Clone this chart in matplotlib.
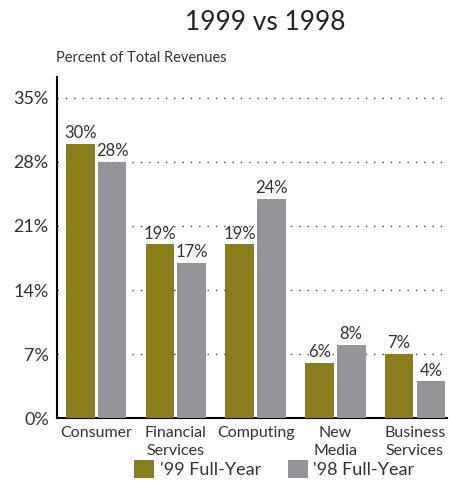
import numpy as np
import matplotlib.pyplot as plt

categories = ["Consumer", "Financial\nServices", "Computing", "New\nMedia", "Business\nServices"]
fy99 = [30, 19, 19, 6, 7]
fy98 = [28, 17, 24, 8, 4]
yticks = [0, 7, 14, 21, 28, 35]

olive = "#8a7d1b"
gray = "#939598"
txt = "#333333"
plt.rcParams["font.family"] = ["Lato", "DejaVu Sans"]

fig = plt.figure(figsize=(4.5, 4.93), dpi=100)
ax = fig.add_axes([0.127, 0.152, 0.866, 0.692])

x = np.arange(len(categories))
w = 0.36
b1 = ax.bar(x - w / 2 - 0.02, fy99, w, color=olive, label="'99 Full-Year", zorder=3)
b2 = ax.bar(x + w / 2 + 0.02, fy98, w, color=gray, label="'98 Full-Year", zorder=3)

for bars in (b1, b2):
    for r in bars:
        ax.text(r.get_x() + r.get_width() / 2, r.get_height() + 0.3, f"{r.get_height():.0f}%",
                ha="center", va="bottom", fontsize=12, color=txt, zorder=4)

ax.set_xlim(-0.49, 4.4)
ax.set_ylim(0, 37.3)
ax.set_yticks(yticks)
ax.set_yticklabels([f"{t}%" for t in yticks], fontsize=13, color=txt)
ax.set_xticks(x)
ax.set_xticklabels(categories, fontsize=11.5, color=txt, linespacing=1.35)
ax.tick_params(length=0, pad=6)
for t in yticks[1:]:
    ax.axhline(t, color="#444444", linestyle=(0, (1, 5)), linewidth=1, zorder=1)
for s in ["top", "right"]:
    ax.spines[s].set_visible(False)
ax.spines["left"].set_linewidth(1.5)
ax.spines["bottom"].set_linewidth(1.5)

fig.text(0.59, 0.955, "1999 vs 1998", ha="center", va="center", fontsize=19, color="#222222")
fig.text(0.124, 0.882, "Percent of Total Revenues", ha="left", va="center", fontsize=10.5, color=txt)
fig.legend(handles=[b1, b2], loc="center", bbox_to_anchor=(0.61, 0.048), ncol=2, frameon=False,
           fontsize=13, handlelength=1.1, handleheight=1.1, handletextpad=0.3, columnspacing=1.5,
           labelcolor=txt)

fig.savefig("out.png", dpi=100)
